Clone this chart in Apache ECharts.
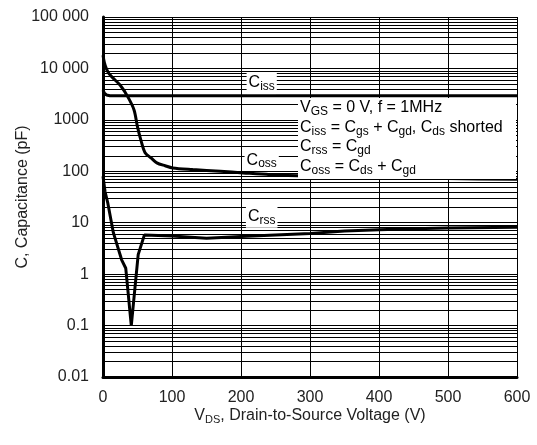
<!DOCTYPE html>
<html>
<head>
<meta charset="utf-8">
<script src="https://cdn.jsdelivr.net/npm/echarts@6/dist/echarts.min.js"></script>
<style>
  html, body { margin: 0; padding: 0; background: #fff; }
  #chart { width: 537px; height: 445px; }
</style>
</head>
<body>
<div id="chart"></div>
<script>
// values
var cissV = [0, 2, 5, 10, 600];
var ciss = [3800, 3300, 3050, 2950, 2950];

var cossV = [0, 2, 5, 9, 15, 25, 36, 45, 50, 55, 61, 70, 78, 90, 101, 130, 170, 203, 242, 300, 400, 500, 600];
var coss = [18000, 13000, 9800, 7800, 6400, 4700, 2800, 1560, 730, 400, 230, 180, 146, 128, 116, 108, 100, 93, 86, 81, 76, 72, 70];

var crssV = [0, 3, 7, 15, 27, 33, 41, 51, 60, 100, 150, 200, 250, 300, 350, 400, 450, 500, 600];
var crss = [80, 40, 24, 6.4, 1.9, 1.3, 0.1, 2.4, 5.8, 5.5, 5.0, 5.4, 5.8, 6.2, 6.9, 7.3, 7.6, 7.9, 8.2];

var yTicks = [0.01, 0.1, 1, 10, 100, 1000, 10000, 100000];
var yTickLabels = ["0.01", "0.1", "1", "10", "100", "1000", "10 000", "100 000"];
var minorSteps = [2, 3, 4, 5, 6, 7, 8, 9];

var curveLabels = [
  { name: "Ciss", coord: [230, 5200], text: "{n|C}{s|iss}" },
  { name: "Coss", coord: [230, 165], text: "{n|C}{s|oss}" },
  { name: "Crss", coord: [230, 13], text: "{n|C}{s|rss}" }
];

function pairs(xs, ys) {
  var out = [];
  for (var i = 0; i < xs.length; i++) out.push([xs[i], ys[i]]);
  return out;
}

// log grid lines (2..9 within each decade)
var gridLines = [];
for (var i = 0; i < yTicks.length - 1; i++) {
  for (var j = 0; j < minorSteps.length; j++) {
    gridLines.push({ yAxis: yTicks[i] * minorSteps[j] });
  }
}

var font = "Liberation Sans";

var chart = echarts.init(document.getElementById("chart"));

var option = {
  animation: false,
  backgroundColor: "#fff",
  grid: { left: 103, right: 20, top: 17, bottom: 68, outerBoundsMode: "none", containLabel: false },
  xAxis: {
    type: "value",
    min: 0,
    max: 600,
    interval: 100,
    name: "{n|V}{s|DS}{n|, Drain-to-Source Voltage (V)}",
    nameLocation: "middle",
    nameGap: 29,
    nameMoveOverlap: false,
    nameTextStyle: {
      rich: {
        n: { fontSize: 16, color: "#222", fontFamily: font },
        s: { fontSize: 11, color: "#222", fontFamily: font, padding: [8, 0, 0, 0] }
      }
    },
    axisLine: { show: true, onZero: false, lineStyle: { color: "#000", width: 3 } },
    axisTick: { show: false },
    axisLabel: { fontSize: 16, color: "#222", fontFamily: font, margin: 13 },
    splitLine: { show: true, lineStyle: { color: "#000", width: 1 } }
  },
  yAxis: {
    type: "log",
    logBase: 10,
    min: 0.01,
    max: 100000,
    name: "C, Capacitance (pF)",
    nameLocation: "middle",
    nameGap: 72,
    nameMoveOverlap: false,
    nameTextStyle: { fontSize: 16, color: "#222", fontFamily: font },
    axisLine: { show: true, lineStyle: { color: "#000", width: 3 } },
    axisTick: { show: false },
    axisLabel: {
      fontSize: 16,
      color: "#222",
      fontFamily: font,
      margin: 14,
      formatter: function (v) {
        for (var t = 0; t < yTicks.length; t++) {
          if (Math.abs(Math.log10(v) - Math.log10(yTicks[t])) < 1e-6) return yTickLabels[t];
        }
        return "";
      }
    },
    splitLine: { show: true, lineStyle: { color: "#000", width: 1 } }
  },
  graphic: [
    {
      type: "rect",
      left: 298,
      top: 98,
      shape: { width: 218, height: 81 },
      style: { fill: "#fff" },
      z: 100
    },
    {
      type: "text",
      left: 300,
      top: 98,
      z: 101,
      style: {
        text: [
          "{n|V}{s|GS}{n| = 0 V, f = 1MHz}",
          "{n|C}{s|iss}{n| = C}{s|gs}{n| + C}{s|gd}{n|, C}{s|ds}{n| shorted}",
          "{n|C}{s|rss}{n| = C}{s|gd}",
          "{n|C}{s|oss}{n| = C}{s|ds}{n| + C}{s|gd}"
        ].join("\n"),
        rich: {
          n: { fontSize: 16, fill: "#000", fontFamily: font, lineHeight: 19.5 },
          s: { fontSize: 12, fill: "#000", fontFamily: font, lineHeight: 19.5, padding: [8, 0, 0, 0] }
        }
      }
    }
  ],
  series: [
    {
      name: "grid",
      type: "line",
      data: [],
      silent: true,
      z: 1,
      markLine: {
        silent: true,
        symbol: ["none", "none"],
        label: { show: false },
        lineStyle: { color: "#000", width: 1, type: "solid" },
        emphasis: { disabled: true },
        animation: false,
        data: gridLines
      }
    },
    {
      name: "Ciss",
      type: "line",
      data: pairs(cissV, ciss),
      showSymbol: false,
      z: 3,
      lineStyle: { color: "#000", width: 3 }
    },
    {
      name: "Coss",
      type: "line",
      data: pairs(cossV, coss),
      showSymbol: false,
      smooth: 0.3,
      z: 3,
      lineStyle: { color: "#000", width: 3 }
    },
    {
      name: "Crss",
      type: "line",
      data: pairs(crssV, crss),
      showSymbol: false,
      z: 3,
      lineStyle: { color: "#000", width: 3 },
      markPoint: {
        symbol: "rect",
        symbolSize: 0,
        silent: true,
        label: {
          show: true,
          position: "inside",
          backgroundColor: "#fff",
          padding: [1, 2, 1, 2],
          formatter: function (p) { return p.data.text; },
          rich: {
            n: { fontSize: 16, color: "#000", fontFamily: font },
            s: { fontSize: 12, color: "#000", fontFamily: font, padding: [8, 0, 0, 0] }
          }
        },
        data: curveLabels
      }
    }
  ]
};

chart.setOption(option);
</script>
</body>
</html>
